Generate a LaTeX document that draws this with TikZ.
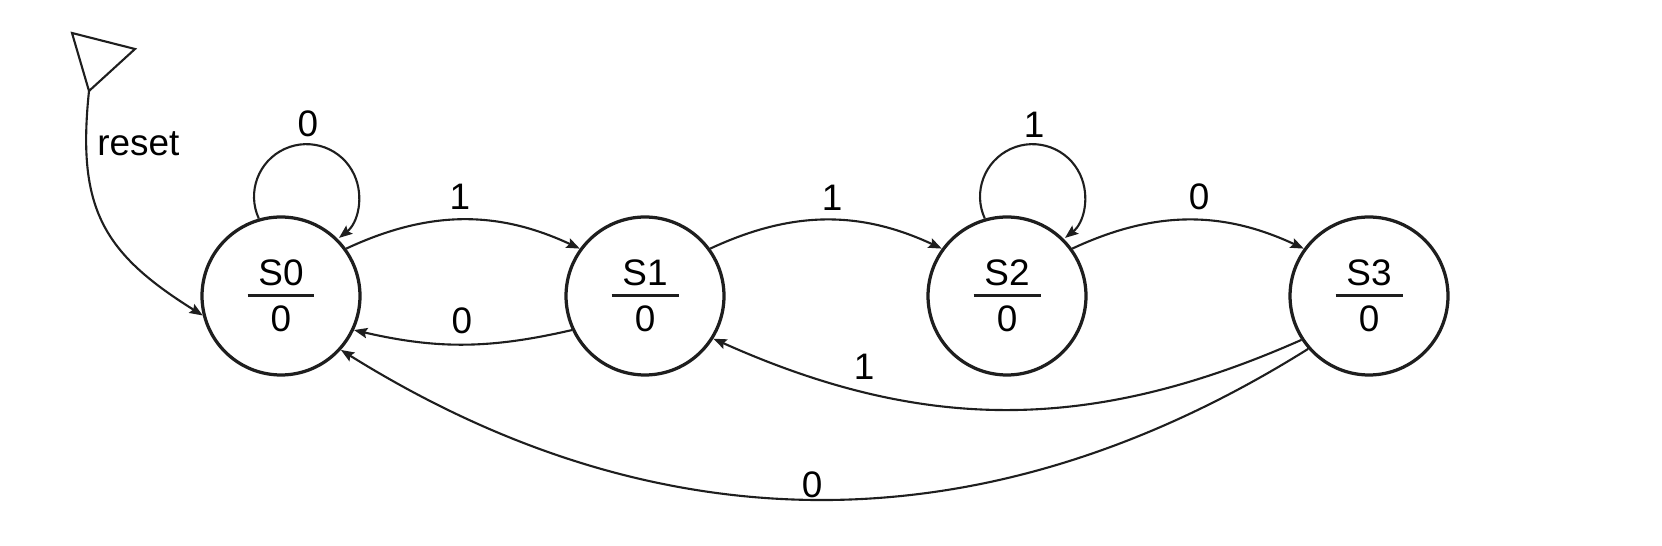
\documentclass[tikz,border=0pt]{standalone}
\usepackage{fontspec}
\setmainfont{Liberation Sans}
\usetikzlibrary{arrows.meta}
\definecolor{ink}{RGB}{30,30,30}
\begin{document}
\begin{tikzpicture}[x=0.02cm, y=0.02cm,
  state/.style={circle, draw=ink, line width=1.85pt, minimum size=3.16cm, inner sep=0pt},
  txt/.style={font=\fontsize{21}{25}\selectfont, text=black, inner sep=0pt},
  tr/.style={draw=ink, line width=1.2pt, -{Stealth[length=7.5pt,width=5.8pt,inset=1.2pt]}},
  barline/.style={draw=ink, line width=1.6pt}]
\useasboundingbox (0,0) rectangle (1662,-546);

% states
\foreach \n/\x in {S0/281, S1/645, S2/1007, S3/1369}{
  \node[state] (\n) at (\x,-296) {};
  \node[txt, anchor=base] (\n t) at ([yshift=0.2cm]\n.center) {\n};
  \node[txt, anchor=base] (\n o) at ([yshift=-0.72cm]\n.center) {0};
  \draw[barline] ([xshift=-0.67cm, yshift=0.01cm]\n.center) -- ([xshift=0.67cm, yshift=0.01cm]\n.center);
}

% reset marker
\coordinate (rs) at (89,-91);
\draw[draw=ink, line width=1.2pt, line join=miter] (72,-33) -- (135,-49) -- (rs) -- cycle;
\node[txt, anchor=base west] (rl) at (97,-156) {reset};
\draw[tr] (rs) to[out=-96, in=148, looseness=1.2] (S0.194);

% self loops
\draw[tr] (S0.106) arc[start angle=204.6, end angle=-51.8, radius=52.5];
\draw[tr] (S2.106) arc[start angle=204.6, end angle=-51.8, radius=52.5];

% transitions
\draw[tr] (S0.36) to[bend left=25] (S1.144);
\draw[tr] (S1.205) to[bend left=13] (S0.335);
\draw[tr] (S1.36) to[bend left=25] (S2.144);
\draw[tr] (S2.36) to[bend left=25] (S3.144);
\draw[tr] (S3.213) to[bend left=24] (S1.328);
\draw[tr] (S3.221) to[bend left=32] (S0.318);

% labels
\node[txt] (l00) at (308,-124) {0};
\node[txt] (l22) at (1034,-124.5) {1};
\node[txt] (l01) at (460,-197) {1};
\node[txt] (l10) at (462,-321) {0};
\node[txt] (l12) at (832,-198) {1};
\node[txt] (l23) at (1199,-196.5) {0};
\node[txt] (l31) at (864,-367) {1};
\node[txt] (l30) at (812,-485) {0};
\end{tikzpicture}
\end{document}
